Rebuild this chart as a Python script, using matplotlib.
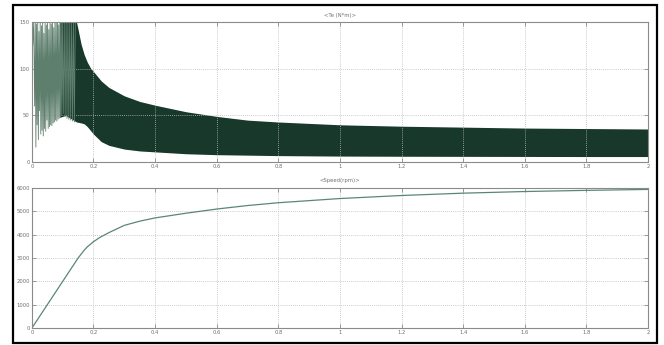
import numpy as np
import matplotlib
matplotlib.use('Agg')
import matplotlib.pyplot as plt
from matplotlib.patches import Rectangle

# torque band envelope (t >= 0.09)
t_env = [0.09, 0.11, 0.13, 0.145, 0.16, 0.17, 0.18, 0.19, 0.2, 0.225, 0.25, 0.3, 0.35, 0.4, 0.5,
         0.6, 0.7, 0.8, 1.0, 1.2, 1.4, 1.6, 1.8, 2.0]
te_upper = [150, 150, 150, 150, 126, 115, 107, 101, 97, 87, 80, 71, 65, 61, 54,
            49, 45, 43, 40, 38.5, 37.5, 36.5, 36, 35.5]
te_lower = [48, 50, 46, 43, 42, 41, 38, 34, 30, 22, 18, 14, 12, 11, 9,
            8, 7.5, 7, 6.5, 6.3, 6.2, 6.1, 6, 6]

# early spikes (start-up transient), zigzag of peaks/troughs
t_spk = [0.0, 0.003, 0.006, 0.009, 0.011, 0.013, 0.015, 0.017, 0.019, 0.021, 0.023, 0.025,
         0.027, 0.029, 0.031, 0.033, 0.035, 0.037, 0.039, 0.041, 0.043, 0.045, 0.047, 0.049,
         0.051, 0.053, 0.055, 0.057, 0.059, 0.061, 0.063, 0.065, 0.067, 0.069, 0.071, 0.073,
         0.075, 0.077, 0.079, 0.081, 0.083, 0.085, 0.087, 0.089, 0.091, 0.093, 0.095, 0.097,
         0.099, 0.102, 0.105, 0.108, 0.111, 0.114, 0.117, 0.12, 0.123, 0.126, 0.129, 0.132,
         0.135, 0.138, 0.141]
te_spk = [150, 125, 150, 60, 150, 16, 148, 40, 150, 24, 140, 55, 150, 30, 146, 34, 150, 28,
          138, 36, 150, 33, 147, 45, 150, 36, 142, 38, 150, 40, 148, 39, 150, 42, 144, 43,
          150, 45, 149, 44, 150, 46, 147, 47, 150, 48, 150, 50, 150, 52, 150, 49, 150, 47,
          150, 46, 150, 45, 150, 44, 150, 43, 150]

# rotor speed
t_spd = [0.0, 0.05, 0.1, 0.15, 0.17, 0.18, 0.2, 0.22, 0.25, 0.3, 0.35, 0.4, 0.5, 0.6, 0.7,
         0.8, 1.0, 1.2, 1.4, 1.6, 1.8, 2.0]
speed = [0, 1000, 2000, 3000, 3340, 3480, 3700, 3880, 4090, 4400, 4580, 4720, 4920, 5100,
         5250, 5370, 5550, 5680, 5780, 5850, 5900, 5940]

xticks = [0, 0.2, 0.4, 0.6, 0.8, 1, 1.2, 1.4, 1.6, 1.8, 2]
xlabels = ['0', '0.2', '0.4', '0.6', '0.8', '1', '1.2', '1.4', '1.6', '1.8', '2']

band = '#17382a'
gray = '#8a8a8a'

fig = plt.figure(figsize=(6.64, 3.45), dpi=100)
ax1 = fig.add_axes([0.048, 0.530, 0.928, 0.406])
ax2 = fig.add_axes([0.048, 0.049, 0.928, 0.406])


def style(ax, yticks, title):
    ax.set_xlim(0, 2)
    ax.set_xticks(xticks)
    ax.set_xticklabels(xlabels)
    ax.set_yticks(yticks)
    ax.set_ylim(yticks[0], yticks[-1])
    ax.grid(True, color='#bbbbbb', linestyle=(0, (1, 1.5)), linewidth=0.6)
    ax.tick_params(direction='in', length=3, width=0.6, colors=gray, labelsize=3.8,
                   top=True, right=True, pad=1.5, labelcolor='#707070')
    for s in ax.spines.values():
        s.set_color(gray)
        s.set_linewidth(0.8)
    ax.set_title(title, fontsize=3.8, color='#707070', pad=4)


ax1.plot(t_spk, te_spk, color='#5f7f6e', linewidth=0.6)
ax1.fill_between(t_env, te_lower, te_upper, color=band, linewidth=0)
style(ax1, [0, 50, 100, 150], '<Te (N*m)>')

ax2.plot(t_spd, speed, color='#5a8775', linewidth=0.9)
style(ax2, [0, 1000, 2000, 3000, 4000, 5000, 6000], '<Speed(rpm)>')

fig.patches.append(Rectangle((0.0196, 0.0058), 0.97, 0.9797, transform=fig.transFigure,
                             fill=False, edgecolor='black', linewidth=1.6))

fig.savefig('out.png', dpi=100)
